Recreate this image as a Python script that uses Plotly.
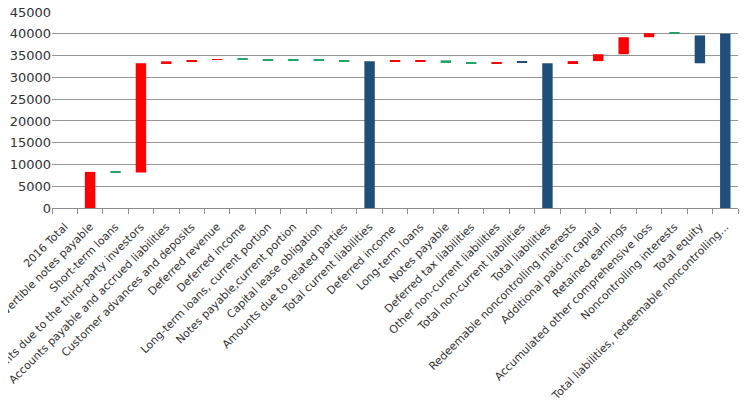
import plotly.graph_objects as go

categories = [
    "2016 Total",
    "Convertible notes payable",
    "Short-term loans",
    "Amounts due to the third-party investors",
    "Accounts payable and accrued liabilities",
    "Customer advances and deposits",
    "Deferred revenue",
    "Deferred income",
    "Long-term loans, current portion",
    "Notes payable,current portion",
    "Capital lease obligation",
    "Amounts due to related parties",
    "Total current liabilities",
    "Deferred income ",
    "Long-term loans",
    "Notes payable",
    "Deferred tax liabilities",
    "Other non-current liabilities",
    "Total non-current liabilities",
    "Total liabilities",
    "Redeemable noncontrolling interests",
    "Additional paid-in capital",
    "Retained earnings",
    "Accumulated other comprehensive loss",
    "Noncontrolling interests",
    "Total equity",
    "Total liabilities, redeemable noncontrolling...",
]

bar_low = [0, 0, 8150, 8150, 33250, 33760, 34010, 34200, 34000, 34000, 34000, 33770, 0,
           33770, 33770, 33310, 33310, 33310, 33400, 0, 33300, 33750, 35330, 39230, 40150,
           33250, 0]
bar_high = [0, 8300, 8300, 33250, 33700, 33960, 34210, 34400, 34160, 34160, 34160, 33930, 33700,
            33930, 33930, 33930, 33470, 33470, 33650, 33250, 33750, 35330, 39230, 40150, 40350,
            39650, 40050]
bar_kind = ["total", "inc", "dec", "inc", "inc", "inc", "inc", "dec", "dec", "dec", "dec", "dec",
            "total", "inc", "inc", "dec", "dec", "inc", "total", "total", "inc", "inc", "inc",
            "inc", "dec", "total", "total"]

y_ticks = [0, 5000, 10000, 15000, 20000, 25000, 30000, 35000, 40000, 45000]

kind_colors = {"inc": "#FF0000", "dec": "#22A466", "total": "#1F4E79"}

heights = [h - l for l, h in zip(bar_low, bar_high)]
colors = [kind_colors[k] for k in bar_kind]

fig = go.Figure(
    go.Bar(
        x=categories,
        y=heights,
        base=bar_low,
        marker=dict(color=colors, line=dict(width=0)),
        hoverinfo="skip",
    )
)

# page body has an 8px default margin; compensate so the plot area lands where the reference's does
fig.update_layout(
    width=745,
    height=392,
    margin=dict(l=44, r=15, t=4, b=192),
    plot_bgcolor="white",
    paper_bgcolor="white",
    bargap=0.59,
    showlegend=False,
    font=dict(family="DejaVu Sans", color="#333333"),
)

fig.update_xaxes(
    type="category",
    tickangle=-45,
    tickfont=dict(size=11, family="DejaVu Sans", color="#333333"),
    showline=True,
    linecolor="#8c8c8c",
    linewidth=1,
    ticks="outside",
    tickson="boundaries",
    ticklen=5,
    tickcolor="#8c8c8c",
    ticklabelstandoff=7,
    ticklabeloverflow="allow",
    showgrid=False,
    automargin=False,
)

fig.update_yaxes(
    range=[0, 45030],
    tickmode="array",
    tickvals=y_ticks,
    ticktext=[str(v) for v in y_ticks],
    ticklabeloverflow="allow",
    showgrid=True,
    gridcolor="#969696",
    gridwidth=1,
    zeroline=False,
    showline=False,
    tickfont=dict(size=13, family="DejaVu Sans", color="#333333"),
    automargin=False,
)

fig.write_html("out.html")
